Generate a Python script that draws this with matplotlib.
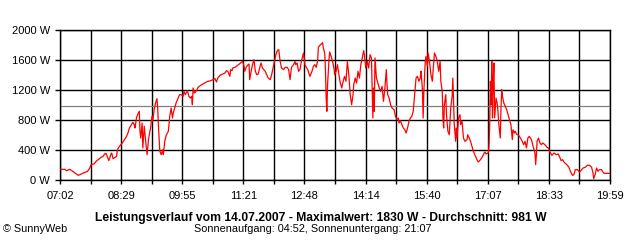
import numpy as np
import matplotlib
matplotlib.use('Agg')
import matplotlib.pyplot as plt

plt.rcParams['font.family'] = ['Liberation Sans', 'DejaVu Sans']

# Leistung in W, Zeit in Minuten ab 07:02
minutes = [0, 7, 9, 14, 18, 23, 26, 30, 34, 39, 42, 44, 48, 51, 54, 56, 58, 61, 63, 65,
           68, 69, 72, 73, 75, 78, 80, 81, 84, 88, 91, 94, 96, 98, 101, 103, 105, 106, 108, 110,
           112, 113, 114, 116, 117, 119, 121, 122, 123, 125, 127, 128, 129, 130, 131, 133, 135, 137, 138, 139,
           140, 141, 143, 145, 146, 148, 150, 153, 154, 155, 157, 159, 160, 162, 164, 167, 169, 171, 174, 175,
           177, 180, 182, 184, 186, 187, 188, 190, 193, 195, 197, 200, 202, 204, 207, 209, 213, 216, 219, 221,
           223, 226, 228, 230, 233, 235, 237, 240, 241, 243, 244, 247, 251, 255,
           258, 260, 261, 263, 265, 267, 268, 270, 272, 274, 276, 278, 280, 283, 284, 286, 288, 290, 292, 294,
           297, 299, 301, 303, 305, 307, 309, 311, 313, 316, 318, 321, 323, 325, 327, 330, 332, 333, 335, 337,
           339, 341, 344, 346, 348, 350, 353, 356, 358, 360, 362, 364, 365, 367, 369, 371, 372, 374, 375, 376,
           377, 378, 380, 381, 383, 385, 387, 388, 390, 392, 394, 396, 398, 400, 402, 404, 406, 408, 410, 412,
           414, 415, 417, 419, 421, 423, 425, 427, 429, 430, 432, 434, 436, 438, 440, 441, 442, 443, 444, 445,
           447, 449, 451, 453, 455, 457, 459, 461, 462, 463, 465, 467, 469, 472, 474, 476, 478, 479, 481, 483,
           485, 487, 489, 491, 493, 495, 497, 499, 501, 503, 505, 507, 509, 510, 512, 513,
           514, 516, 517, 519, 520, 522, 524, 526, 527, 529, 531, 533, 535, 537, 538, 540, 541, 542, 543, 545,
           546, 548, 550, 552, 554, 555, 556, 557, 559, 560, 561, 563, 565, 566, 568, 570, 572, 575, 576, 578,
           580, 582, 584, 586, 589, 591, 594, 597, 600, 602, 605, 606, 607, 608, 609, 610, 611, 612, 613, 614,
           616, 618, 620, 622, 623, 624, 625, 627, 629, 631, 633, 635, 637, 639, 640, 642, 643, 645, 648, 651,
           653, 655, 657, 659, 661, 663, 666, 669, 671, 672, 673, 674, 676, 678, 680, 682, 685, 688, 690, 692,
           695, 698, 701, 704, 706, 708, 710, 713, 716, 719, 721, 724, 726, 728, 731, 734, 737, 739, 742, 745,
           748, 751, 753, 754, 756, 758, 760, 762, 765, 768, 770, 773, 777]
watts = [142, 142, 124, 142, 116, 80, 62, 80, 98, 116, 160, 204, 213, 249, 271, 284, 302, 316, 347, 356,
         284, 258, 347, 360, 284, 302, 316, 404, 449, 493, 538, 582, 627, 693, 738, 769, 738, 693, 827, 880,
         916, 649, 560, 760, 427, 716, 516, 427, 338, 538, 649, 693, 782, 849, 782, 938, 1027, 1084, 960, 738,
         560, 382, 338, 404, 338, 516, 596, 649, 738, 849, 960, 827, 893, 960, 1027, 1093, 1138, 1138, 1116, 1182,
         1138, 1191, 1116, 1093, 1116, 1004, 1227, 1160, 1191, 1236, 1249, 1271, 1280, 1293, 1307, 1316, 1324, 1338, 1351, 1307,
         1360, 1396, 1404, 1413, 1427, 1458, 1449, 1382, 1471, 1458, 1493, 1502, 1529, 1560,
         1582, 1516, 1449, 1502, 1529, 1547, 1338, 1449, 1538, 1604, 1449, 1404, 1413, 1529, 1560, 1493, 1471, 1449, 1404, 1360,
         1338, 1404, 1493, 1582, 1671, 1725, 1738, 1582, 1493, 1471, 1502, 1502, 1471, 1338, 1502, 1538, 1582, 1538, 1560, 1449,
         1471, 1582, 1693, 1538, 1502, 1471, 1382, 1449, 1516, 1538, 1502, 1591, 1769, 1795, 1813, 1830, 1760, 1693, 1471, 1093,
         916, 1271, 1604, 1707, 1649, 1582, 1493, 1404, 1449, 1538, 1404, 1293, 1227, 1316, 1382, 1316, 1582, 1404, 1138, 1004,
         1138, 1271, 1360, 1293, 1449, 1360, 1538, 1627, 1725, 1671, 1493, 1582, 1493, 1671, 1627, 1249, 827, 1227, 916, 1627,
         1360, 1293, 1227, 1182, 1249, 1049, 1227, 1471, 1271, 1138, 1093, 1004, 960, 938, 849, 804, 827, 760, 791, 738,
         693, 671, 627, 693, 782, 827, 849, 916, 1138, 1360, 1382, 1316, 1360, 1449, 1204, 827,
         1182, 1582, 1649, 1516, 1693, 1582, 1404, 1316, 1449, 1693, 1649, 1582, 1449, 1582, 1316, 1182, 827, 693, 1004, 1138,
         871, 649, 604, 960, 1116, 1360, 1049, 738, 516, 693, 560, 827, 871, 738, 782, 560, 516, 538, 604, 560,
         516, 449, 382, 338, 271, 240, 271, 316, 373, 347, 360, 449, 693, 1316, 1004, 1582, 827, 1316, 1560, 827,
         1093, 1004, 738, 560, 960, 1204, 1116, 1027, 982, 938, 871, 804, 738, 538, 671, 627, 649, 613, 596, 551,
         516, 471, 516, 427, 560, 582, 538, 427, 360, 205, 338, 516, 560, 493, 471, 493, 471, 436, 427, 373,
         329, 360, 338, 347, 302, 258, 271, 227, 205, 169, 116, 62, 71, 138, 138, 107, 138, 160, 169, 196,
         196, 169, 93, 18, 71, 160, 116, 138, 138, 93, 89, 89, 89]

average = 981
time_labels = ['07:02', '08:29', '09:55', '11:21', '12:48', '14:14', '15:40', '17:07', '18:33', '19:59']
y_values = [0, 400, 800, 1200, 1600, 2000]

title = 'Leistungsverlauf vom 14.07.2007 - Maximalwert: 1830 W - Durchschnitt: 981 W'
subtitle = 'Sonnenaufgang: 04:52, Sonnenuntergang: 21:07'

fig = plt.figure(figsize=(6.4, 2.4), dpi=100)
ax = fig.add_axes([60 / 640, 60 / 240, 550 / 640, 150 / 240])

# Gitter: 18 Intervalle, Beschriftung nur jedes zweite
span = minutes[-1]
xticks = np.linspace(0, span, 19)
xlabels = []
for i in range(19):
    xlabels.append(time_labels[i // 2] if i % 2 == 0 else '')
ax.set_xticks(xticks)
ax.set_xticklabels(xlabels)
ax.set_yticks(y_values)
ax.set_yticklabels(['%d W' % v for v in y_values])
ax.set_xlim(0, span)
ax.set_ylim(0, 2000)

ax.grid(True, color='black', linewidth=1.0)
ax.set_axisbelow(True)
for s in ax.spines.values():
    s.set_color('black')
    s.set_linewidth(1.0)
ax.tick_params(axis='y', length=3.6, width=1.0, pad=3.6, labelsize=8)
ax.tick_params(axis='x', length=3.0, width=1.0, pad=5.0, labelsize=8)

ax.axhline(average, color='#808080', linewidth=0.9, zorder=2)
ax.plot(minutes, watts, color='#ff0000', linewidth=0.9, zorder=3)

fig.text(321 / 640, 1 - 218 / 240, title, ha='center', va='center', fontsize=8.7, fontweight='bold')
fig.text(313 / 640, 1 - 229 / 240, subtitle, ha='center', va='center', fontsize=7.8)
fig.text(3 / 640, 1 - 229 / 240, '\u00a9 SunnyWeb', ha='left', va='center', fontsize=7.8)

fig.savefig('out.png', dpi=100)
